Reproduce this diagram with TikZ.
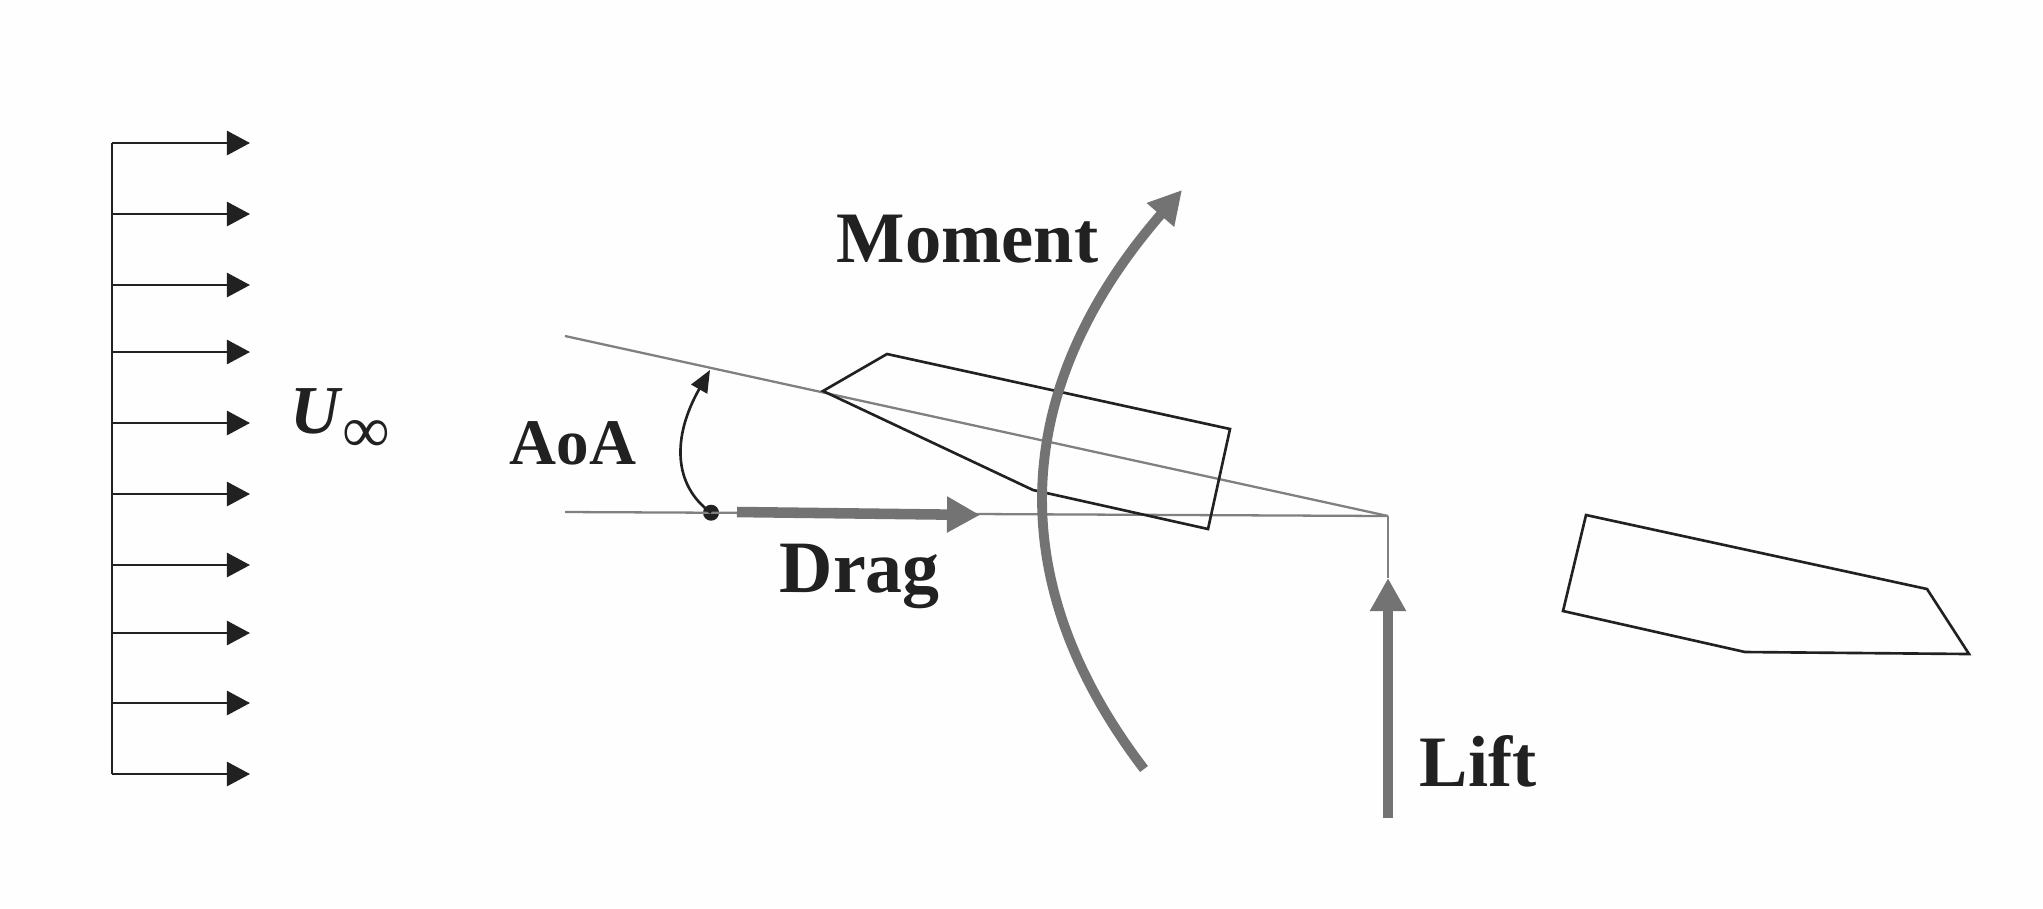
\documentclass[tikz,border=0pt]{standalone}
\usepackage{fontspec}
\setmainfont{Liberation Serif}
\usetikzlibrary{arrows.meta}
\usetikzlibrary{positioning}
\definecolor{inkdark}{gray}{0.13}
\definecolor{inkgray}{gray}{0.45}
\definecolor{inkthin}{gray}{0.50}
\tikzstyle{every node}+=[inner sep=0pt]
\tikzstyle{flow} = [draw=inkdark, line width=0.72pt, -{Triangle[length=0.23cm, width=0.24cm]}]
\tikzstyle{outline} = [draw=inkdark, line width=0.75pt, line join=miter]
\tikzstyle{thin line} = [draw=inkthin, line width=0.65pt]
\tikzstyle{force} = [draw=inkgray, line width=3pt, -{Triangle[length=0.33cm, width=0.34cm]}]
\tikzstyle{caption} = [text=inkdark, font=\fontsize{20.6}{24}\selectfont\bfseries]

\begin{document}
\begin{tikzpicture}[x=0.01cm, y=-0.01cm]
            \useasboundingbox [fill={rgb,255:red,254;green,254;blue,254}] (0,0) rectangle (2043,908);
            % Place points
            \coordinate (base0) at (112,143);
            \coordinate (base1) at (112,214);
            \coordinate (base2) at (112,285);
            \coordinate (base3) at (112,352);
            \coordinate (base4) at (112,423);
            \coordinate (base5) at (112,494);
            \coordinate (base6) at (112,565);
            \coordinate (base7) at (112,633);
            \coordinate (base8) at (112,703);
            \coordinate (base9) at (112,774);
            \coordinate (tip0) at (250,143);
            \coordinate (tip1) at (250,214);
            \coordinate (tip2) at (250,285);
            \coordinate (tip3) at (250,352);
            \coordinate (tip4) at (250,423);
            \coordinate (tip5) at (250,494);
            \coordinate (tip6) at (250,565);
            \coordinate (tip7) at (250,633);
            \coordinate (tip8) at (250,703);
            \coordinate (tip9) at (250,774);
            \coordinate (chord) at (565,336);
            \coordinate (level) at (565,512);
            \coordinate (hinge) at (1388,516);
            \coordinate (dot) at (711,512);
            \coordinate (aoatip) at (710,370);
            \coordinate (dragstart) at (737,512);
            \coordinate (dragtip) at (980,515);
            \coordinate (liftstart) at (1388,818);
            \coordinate (lifttip) at (1388,578);
            \coordinate (momentstart) at (1144,769);
            \coordinate (momenttip) at (1182,190);
            % Place labels
            \node [text=inkdark, anchor=base west, font=\fontsize{19.5}{24}\selectfont\bfseries\itshape] (uinf) at (290,433) {U};
            \node [text=inkdark, font=\fontsize{19}{20}\selectfont, anchor=base west] (uinfsub) at (342,452) {∞};
            \node [caption, anchor=base west] (moment) at (836,262) {Moment};
            \node [caption, anchor=base west, font=\fontsize{18.5}{22}\selectfont\bfseries] (aoa) at (509,464) {AoA};
            \node [caption, anchor=base west, font=\fontsize{21}{24}\selectfont\bfseries] (drag) at (779,592) {Drag};
            \node [caption, anchor=base west, right=0.31cm of liftstart, yshift=0.32cm, anchor=base west] (lift) {Lift};
            \node [circle, fill=inkdark, minimum size=0.16cm, below=0pt of dot, yshift=0.08cm] (pivot) {};
            % Draw flow profile
            \path [outline] (base0) -- (base9);
            \path [flow] (base0) -- (tip0);
            \path [flow] (base1) -- (tip1);
            \path [flow] (base2) -- (tip2);
            \path [flow] (base3) -- (tip3);
            \path [flow] (base4) -- (tip4);
            \path [flow] (base5) -- (tip5);
            \path [flow] (base6) -- (tip6);
            \path [flow] (base7) -- (tip7);
            \path [flow] (base8) -- (tip8);
            \path [flow] (base9) -- (tip9);
            % Draw reference lines
            \path [thin line] (chord) -- (hinge);
            \path [thin line] (level) -- (hinge);
            \path [thin line] (hinge) -- (lifttip);
            % Draw wings
            \path [outline] (823,391) -- (887,354) -- (1230,429) -- (1208,529) -- (1033,490) -- cycle;
            \path [outline] (1586,515) -- (1927,589) -- (1969,654) -- (1745,652) -- (1563,611) -- cycle;
            % Draw forces
            \path [draw=inkdark, line width=0.75pt, -{Triangle[length=0.22cm, width=0.18cm]}] (pivot.center) .. controls (673,485) and (672,437) .. (aoatip);
            \path [force] (dragstart) -- (dragtip);
            \path [force] (liftstart) -- (lifttip);
            \path [force, line width=2.8pt] (momentstart) .. controls (999,579) and (1012,386) .. (momenttip);
          \end{tikzpicture}
\end{document}
